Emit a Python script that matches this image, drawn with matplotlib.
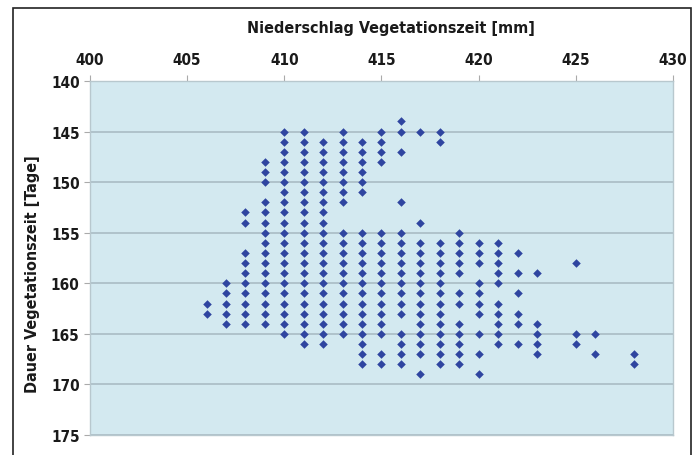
import matplotlib
matplotlib.use("Agg")
import matplotlib.pyplot as plt
from matplotlib.patches import Rectangle
from matplotlib import font_manager as fm

# Data: for each precipitation value (mm), the vegetation-period durations (days)
precip = [406, 407, 408, 409, 410, 411, 412, 413, 414, 415, 416, 417,
          418, 419, 420, 421, 422, 423, 425, 426, 428]
durations = [
    [162, 163],
    [160, 161, 162, 163, 164],
    [153, 154, 157, 158, 159, 160, 161, 162, 163, 164],
    [148, 149, 150, 152, 153, 154, 155, 156, 157, 158, 159, 160, 161, 162, 163, 164],
    list(range(145, 166)),
    list(range(145, 167)),
    list(range(146, 167)),
    [145, 146, 147, 148, 149, 150, 151, 152] + list(range(155, 166)),
    [146, 147, 148, 149, 150, 151] + list(range(155, 169)),
    [145, 146, 147, 148] + list(range(155, 166)) + [167, 168],
    [144, 145, 147, 152] + list(range(155, 164)) + [165, 166, 167, 168],
    [145, 154] + list(range(156, 168)) + [169],
    [145, 146] + list(range(156, 169)),
    [155, 156, 157, 158, 159, 161, 162, 164, 165, 166, 167, 168],
    [156, 157, 158, 160, 161, 162, 163, 165, 167, 169],
    [156, 157, 158, 159, 160, 162, 163, 164, 165, 166],
    [157, 159, 161, 163, 164, 166],
    [159, 164, 165, 166, 167],
    [158, 165, 166],
    [165, 167],
    [167, 168],
]
x_ticks = [400, 405, 410, 415, 420, 425, 430]
y_ticks = [140, 145, 150, 155, 160, 165, 170, 175]
x_label = "Niederschlag Vegetationszeit [mm]"
y_label = "Dauer Vegetationszeit [Tage]"

xs, ys = [], []
for p, ds in zip(precip, durations):
    for d in ds:
        xs.append(p)
        ys.append(d)

# pick a condensed font if one is installed
fp = None
for f in fm.fontManager.ttflist:
    n = f.fname.lower()
    if ('condensed' in n or 'narrow' in n) and 'bold' in n and 'oblique' not in n and 'italic' not in n:
        fp = f.fname
        break


def tp(size):
    if fp is not None:
        return dict(fontproperties=fm.FontProperties(fname=fp, size=size))
    return dict(fontweight='bold', fontsize=size * 0.88)


fig = plt.figure(figsize=(6.99, 4.56), dpi=100)
W, H = 699, 456
ax = fig.add_axes([90 / W, 1 - 436 / H, (673 - 90) / W, (436 - 82) / H])
ax.set_facecolor('#d3e9f0')

ax.scatter(xs, ys, marker='D', s=19, color='#2f45a0', linewidths=0, zorder=3)

ax.set_xlim(400, 430)
ax.set_ylim(175, 140)
ax.xaxis.tick_top()
ax.tick_params(axis='both', colors='#aaaaaa', length=4, width=0.8,
               labelcolor='#1a1a1a')
ax.tick_params(axis='x', pad=6)
ax.set_xticks(x_ticks, [str(v) for v in x_ticks], **tp(11))
ax.set_yticks(y_ticks, [str(v) for v in y_ticks], **tp(11))
ax.yaxis.grid(True, color='#a9bcc4', linewidth=1.2, zorder=1)
ax.xaxis.grid(False)
for s in ax.spines.values():
    s.set_color('#b8c8ce')
    s.set_linewidth(1.0)

fig.text(391 / W, 1 - 29 / H, x_label, ha='center', va='center', color='#1a1a1a', **tp(11.5))
fig.text(33 / W, 1 - 274 / H, y_label, ha='center', va='center', rotation=90,
         color='#1a1a1a', **tp(11.5))

# outer frame
fig.patches.append(Rectangle((13 / W, -0.01), (691 - 13) / W, 1 - 9 / H + 0.01,
                             transform=fig.transFigure, fill=False,
                             edgecolor='#222222', linewidth=1.2))

fig.savefig('out.png', dpi=100)
